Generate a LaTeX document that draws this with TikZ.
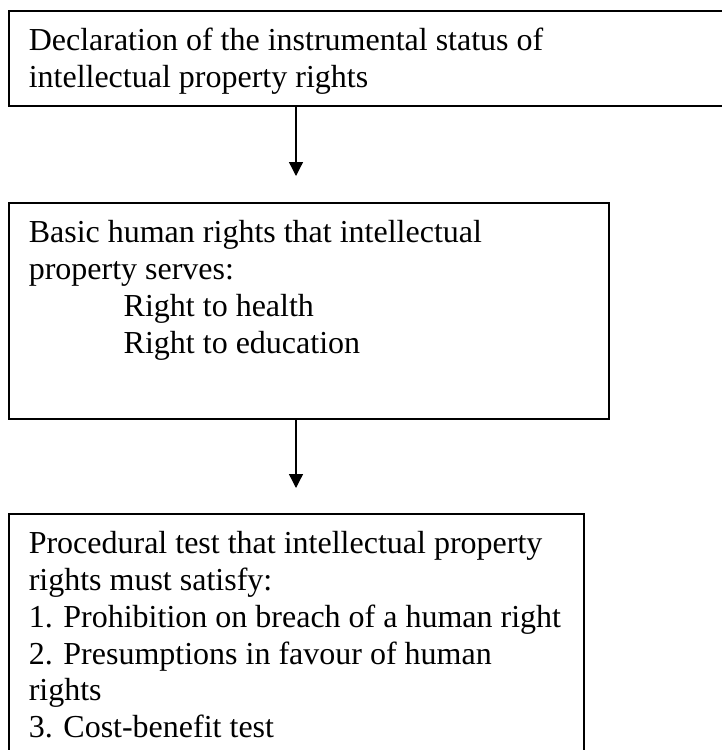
\documentclass[tikz,border=0pt]{standalone}
\usepackage{fontspec}
\setmainfont{Liberation Serif}
\usetikzlibrary{arrows.meta}
\tikzset{
  box/.style={draw=black, line width=1.5pt, rectangle, inner xsep=20pt, inner ysep=0pt, anchor=north west, align=left},
  arr/.style={draw=black, line width=1.3pt, -{Triangle[width=14pt,length=14pt]}}
}
\newcommand{\boxtext}[3]{\parbox[t][#1][t]{#2}{\fontsize{32}{36.8}\selectfont\raggedright\rule{0pt}{40pt}#3}}
\begin{document}
\begin{tikzpicture}[x=1pt,y=-1pt]
\clip (0,0) rectangle (722,750);
\node[box, minimum width=740pt, minimum height=95pt] (b1) at (8,10)
  {\boxtext{95pt}{700pt}{Declaration of the instrumental status of\\intellectual property rights}};
\node[box, minimum width=600pt, minimum height=216pt] (b2) at (8,202)
  {\boxtext{216pt}{560pt}{Basic human rights that intellectual\\property serves:\\\hspace*{95pt}Right to health\\\hspace*{95pt}Right to education}};
\node[box, minimum width=575pt, minimum height=250pt] (b3) at (8,513)
  {\boxtext{250pt}{535pt}{Procedural test that intellectual property\\rights must satisfy:\\1. Prohibition on breach of a human right\\2. Presumptions in favour of human\\rights\\3. Cost-benefit test}};
\coordinate (ax) at (296,0);
\draw[arr, shorten >=26pt] (b1.south -| ax) -- (b2.north -| ax);
\draw[arr, shorten >=25pt] (b2.south -| ax) -- (b3.north -| ax);
\end{tikzpicture}
\end{document}
